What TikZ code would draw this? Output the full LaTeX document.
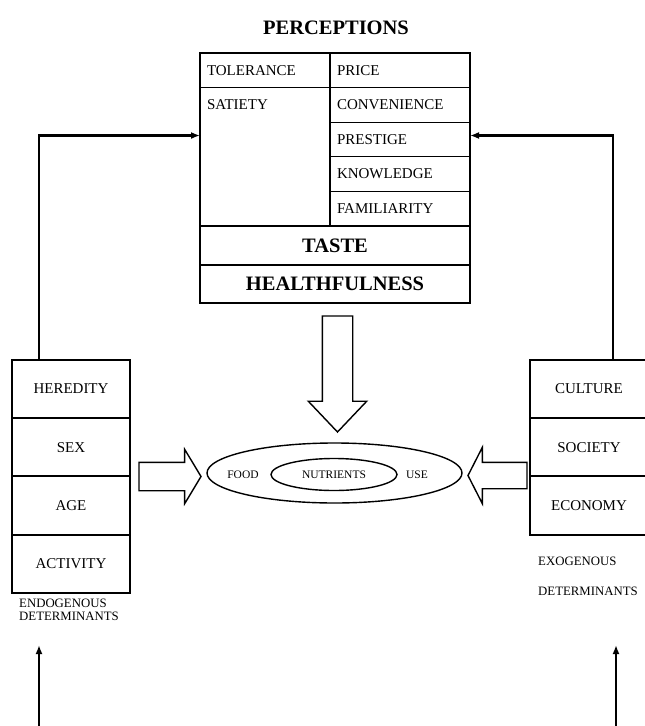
\documentclass[tikz,border=0pt]{standalone}
\usepackage{fontspec}
\setmainfont{Liberation Serif}
\usetikzlibrary{positioning, arrows.meta, shapes.geometric, shapes.arrows}

\newcommand{\txtcell}{\fontsize{15}{18}\selectfont}
\newcommand{\txtbold}{\fontsize{20.5}{24}\selectfont\bfseries}
\newcommand{\txtsmall}{\fontsize{11.5}{14}\selectfont}
\newcommand{\txtnote}{\fontsize{12.8}{12.5}\selectfont}

\tikzset{%
  cellL/.style={draw, line width=1.2pt, rectangle, outer sep=0pt, inner ysep=0pt,
    inner xsep=7pt, text width=116pt, align=left, minimum height=34.6pt, font=\txtcell},
  cellR/.style={cellL, text width=126pt},
  wide/.style={draw, line width=1.2pt, outer sep=0pt, inner sep=0pt, minimum width=270pt, font=\txtbold},
  detbox/.style={draw, line width=1.8pt, outer sep=0pt, minimum width=118pt, minimum height=58.25pt, font=\txtcell},
  blockarrow/.style={single arrow, draw, line width=1.4pt, inner xsep=0pt, outer sep=0pt, anchor=tail},
  ring/.style={ellipse, draw, line width=1.4pt, inner sep=0pt},
  conn/.style={line width=2.4pt, -{Latex[length=9pt,width=7pt]}}, % the feedback lines
  note/.style={font=\txtnote, inner sep=0pt}
}

\begin{document}
\begin{tikzpicture}[x=1pt, y=-1pt]
    \useasboundingbox (0,0) rectangle (645,726);

    % perceptions table
    \node[font=\txtbold] (title) at (336,28) {PERCEPTIONS};
    \node[cellL, anchor=north west] (tol) at (200,53) {TOLERANCE};
    \node[cellR, right=0pt of tol] (price) {PRICE};
    \node[cellR, below=0pt of price] (conv) {CONVENIENCE};
    \node[cellR, below=0pt of conv] (prest) {PRESTIGE};
    \node[cellR, below=0pt of prest] (know) {KNOWLEDGE};
    \node[cellR, below=0pt of know] (fam) {FAMILIARITY};
    \node[cellL, below=0pt of tol, text height=22.3pt, text depth=116.1pt] (sat) {SATIETY};
    \node[wide, anchor=north west, minimum height=39pt] (taste) at (sat.south west) {TASTE};
    \node[wide, below=0pt of taste, minimum height=38pt] (health) {HEALTHFULNESS};
    \draw[line width=2pt] (tol.north west) rectangle (health.south east);

    % endogenous determinants
    \node[detbox] (hered) at (71,389) {HEREDITY};
    \node[detbox, below=0pt of hered] (sex) {SEX};
    \node[detbox, below=0pt of sex] (age) {AGE};
    \node[detbox, below=0pt of age] (act) {ACTIVITY};
    \node[note, align=left, anchor=north west] (endo) at ([xshift=7pt, yshift=-6pt]act.south west) {ENDOGENOUS\\DETERMINANTS};

    % exogenous determinants
    \node[detbox] (cult) at (589,389) {CULTURE};
    \node[detbox, below=0pt of cult] (soc) {SOCIETY};
    \node[detbox, below=0pt of soc] (econ) {ECONOMY};
    \node[note, anchor=base west] (exo1) at ([xshift=8pt, yshift=-31pt]econ.south west) {EXOGENOUS};
    \node[note, anchor=base west] (exo2) at ([yshift=-30pt]exo1.base west) {DETERMINANTS};

    % food use
    \node[ring, minimum width=255pt, minimum height=60pt] (food) at (334.5,473) {};
    \node[ring, minimum width=126pt, minimum height=32pt, font=\txtsmall] (nutr) at (334,474.5) {NUTRIENTS};
    \node[font=\txtsmall] (foodlbl) at (243,475) {FOOD};
    \node[font=\txtsmall] (uselbl) at (417,475) {USE};

    % block arrows into the ellipse
    \node[blockarrow, minimum height=62pt, inner ysep=13.5pt, single arrow head extend=13pt,
      single arrow tip angle=118] (inR) at (139,476.5) {};
    \node[blockarrow, shape border rotate=180, minimum height=59pt, inner ysep=12.5pt,
      single arrow head extend=15pt, single arrow tip angle=126] (inL) at (527,475.5) {};
    \node[blockarrow, shape border rotate=270, minimum height=116pt, inner ysep=0pt, inner xsep=14.5pt,
      single arrow head extend=14pt, single arrow tip angle=87] (inD) at (337.5,316) {};

    % feedback
    \coordinate (lvl) at ([yshift=4pt]prest.east);
    \draw[conn] ([xshift=27pt]hered.north west) |- (sat.west |- lvl);
    \draw[conn] ([xshift=83pt]cult.north west) |- (lvl);
    \coordinate (endoBase) at (39,726);
    \coordinate (endoTip) at (39,645);
    \coordinate (exoBase) at (616,726);
    \coordinate (exoTip) at (616,645);
    \draw[conn] (endoBase) -- (endoTip);
    \draw[conn] (exoBase) -- (exoTip);
\end{tikzpicture}
\end{document}
